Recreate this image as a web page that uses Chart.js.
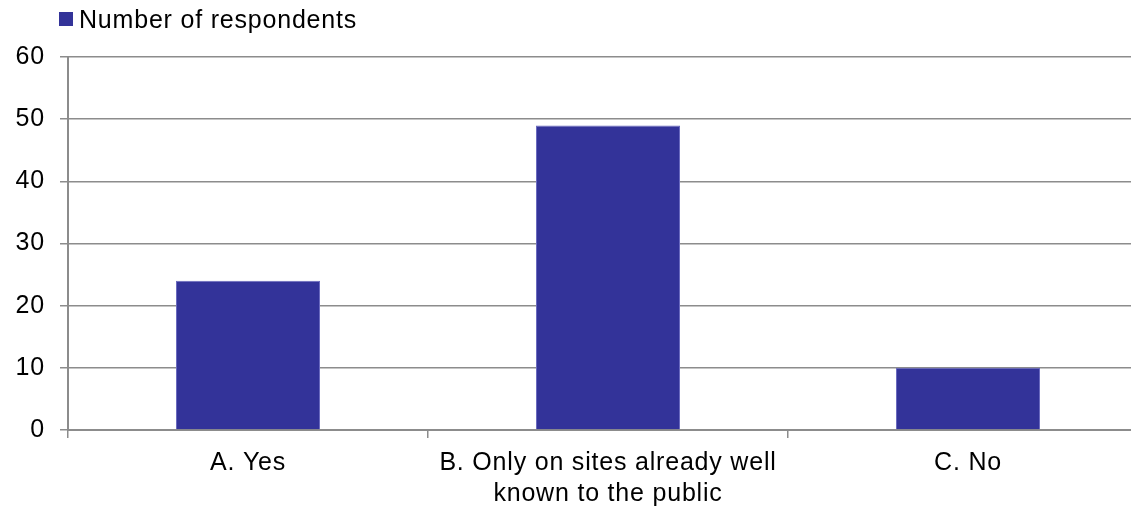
<!DOCTYPE html>
<html>
<head>
<meta charset="utf-8">
<script src="https://cdn.jsdelivr.net/npm/chart.js@4/dist/chart.umd.min.js"></script>
<style>
  html, body { margin: 0; padding: 0; background: #fff; overflow: hidden; }
  #wrap { position: relative; width: 1150px; height: 507px; }
</style>
</head>
<body>
<div id="wrap"><canvas id="grafico"></canvas></div>
<script>
// dados do grafico
const categorias = ['A. Yes', ['B. Only on sites already well', 'known to the public'], 'C. No'];
const respondentes = [24, 49, 10];
const nomeSerie = 'Number of respondents';
const ticksY = [0, 10, 20, 30, 40, 50, 60];

const corBarra = '#333399';
const corGrade = '#8c8c8c';
const fonte = 'Liberation Sans, Arial, sans-serif';
const espacoLetras = '0.8px';

// o texto do original e um pouco mais espacado
const espacamento = {
  id: 'espacamento',
  beforeUpdate(chart) { chart.ctx.letterSpacing = espacoLetras; },
  beforeDraw(chart) { chart.ctx.letterSpacing = espacoLetras; }
};

// legenda desenhada a mao no canto de cima
const legendaManual = {
  id: 'legendaManual',
  afterDraw(chart) {
    const c = chart.ctx;
    const ds = chart.data.datasets[0];
    c.save();
    c.fillStyle = ds.backgroundColor;
    c.fillRect(59, 12, 14, 14);
    c.fillStyle = '#000';
    c.font = '25px ' + fonte;
    c.textBaseline = 'alphabetic';
    c.fillText(ds.label, 79, 28);
    c.restore();
  }
};

function criarGrafico(ctx) {
  return new Chart(ctx, {
    type: 'bar',
    data: {
      labels: categorias,
      datasets: [{
        label: nomeSerie,
        data: respondentes,
        backgroundColor: corBarra,
        borderColor: '#6a6abf',
        borderWidth: 1,
        barPercentage: 0.4,
        categoryPercentage: 1
      }]
    },
    options: {
      responsive: true,
      maintainAspectRatio: false,
      animation: false,
      layout: { padding: { top: 57, right: 2, left: 0, bottom: 0 } },
      plugins: {
        legend: { display: false },
        tooltip: { enabled: false }
      },
      scales: {
        x: {
          offset: true,
          grid: {
            offset: true,
            drawOnChartArea: false,
            color: corGrade,
            lineWidth: 1.5,
            tickLength: 8
          },
          border: { color: corGrade, width: 2 },
          ticks: {
            color: '#000',
            font: { family: fonte, size: 25, lineHeight: 1.25 },
            padding: 9,
            maxRotation: 0,
            autoSkip: false
          },
          afterFit(scale) { scale.height = 77; }
        },
        y: {
          min: 0,
          max: 60,
          afterBuildTicks(scale) { scale.ticks = ticksY.map(v => ({ value: v })); },
          grid: {
            color: corGrade,
            lineWidth: 1.5,
            tickLength: 8
          },
          border: { color: corGrade, width: 2 },
          ticks: {
            color: '#000',
            font: { family: fonte, size: 25 },
            padding: 15
          },
          afterFit(scale) { scale.width = 68; }
        }
      }
    },
    plugins: [espacamento, legendaManual]
  });
}

// INICIAR
const contexto = document.getElementById('grafico');
const grafico = criarGrafico(contexto);
</script>
</body>
</html>
